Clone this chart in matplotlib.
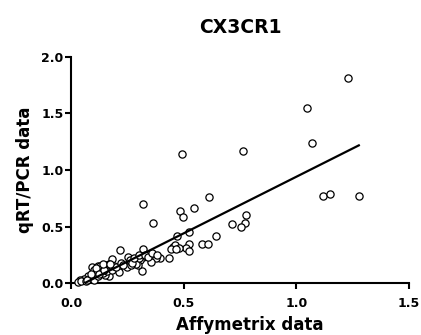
import numpy as np
import matplotlib
matplotlib.use("Agg")
import matplotlib.pyplot as plt

plt.rcParams['font.family'] = ['DejaVu Sans']
plt.rcParams['font.weight'] = 'bold'

# values
affy = [1.228, 1.049, 1.072, 1.120, 1.151, 1.278, 0.762, 0.491,
        0.321, 0.365, 0.612, 0.547, 0.485, 0.496, 0.777, 0.772, 0.756, 0.714,
        0.645, 0.580, 0.609, 0.525, 0.472, 0.525, 0.510, 0.525,
        0.454, 0.462, 0.479, 0.442, 0.468,
        0.435, 0.395, 0.378, 0.354, 0.346, 0.318, 0.314, 0.318, 0.306, 0.299,
        0.284, 0.275, 0.290, 0.300,
        0.216, 0.254, 0.247, 0.265, 0.182, 0.210, 0.214, 0.166, 0.150, 0.151,
        0.121, 0.093, 0.170, 0.160, 0.130, 0.135, 0.115, 0.105, 0.114, 0.098,
        0.077, 0.085, 0.055, 0.040, 0.030, 0.045, 0.065, 0.070, 0.100, 0.120,
        0.140, 0.160, 0.180, 0.190, 0.200, 0.220, 0.230, 0.260, 0.270, 0.280,
        0.300, 0.330, 0.340, 0.360, 0.380, 0.100, 0.110, 0.090, 0.125, 0.145,
        0.143, 0.173]
qpcr = [1.81, 1.55, 1.24, 0.77, 0.79, 0.77, 1.17, 1.14,
        0.70, 0.53, 0.76, 0.66, 0.64, 0.58, 0.60, 0.53, 0.50, 0.52,
        0.42, 0.35, 0.35, 0.45, 0.42, 0.35, 0.31, 0.28,
        0.32, 0.34, 0.31, 0.30, 0.30,
        0.22, 0.22, 0.22, 0.19, 0.26, 0.30, 0.11, 0.23, 0.20, 0.16,
        0.19, 0.21, 0.17, 0.22,
        0.29, 0.23, 0.14, 0.16, 0.21, 0.13, 0.10, 0.06, 0.07, 0.15,
        0.15, 0.14, 0.17, 0.16, 0.15, 0.10, 0.11, 0.09, 0.07, 0.05,
        0.06, 0.04, 0.04, 0.03, 0.01, 0.02, 0.02, 0.03, 0.03, 0.06,
        0.09, 0.11, 0.12, 0.15, 0.14, 0.18, 0.16, 0.20, 0.18, 0.22,
        0.25, 0.25, 0.23, 0.27, 0.25, 0.12, 0.13, 0.08, 0.08, 0.12,
        0.17, 0.17]

# regression line
fit_slope = 1.0
fit_intercept = -0.06

fig = plt.figure(figsize=(4.21, 3.35), dpi=100)
ax = fig.add_axes([0.169, 0.155, 0.802, 0.675])

ax.plot(affy, qpcr, 'o', mfc='white', mec='black', ms=5.2, mew=0.9,
        clip_on=False, zorder=3)

fx = np.array([0.06, max(affy)])
ax.plot(fx, fit_slope * fx + fit_intercept, color='black', lw=1.6, zorder=4)

ax.set_xlim(0, 1.5)
ax.set_ylim(0, 2.0)
ax.set_xticks([0, 0.5, 1.0, 1.5])
ax.set_yticks([0, 0.5, 1.0, 1.5, 2.0])
ax.xaxis.set_major_formatter(plt.FormatStrFormatter('%.1f'))
ax.yaxis.set_major_formatter(plt.FormatStrFormatter('%.1f'))

for s in ['top', 'right']:
    ax.spines[s].set_visible(False)
for s in ['left', 'bottom']:
    ax.spines[s].set_linewidth(1.5)
ax.tick_params(direction='out', length=4.5, width=1.5, labelsize=9)
ax.tick_params(axis='x', pad=5.5)
ax.tick_params(axis='y', pad=1)

ax.set_xlabel('Affymetrix data', fontsize=12, fontweight='bold', labelpad=4)
ax.xaxis.label.set_x(0.53)
ax.set_ylabel('qRT/PCR data', fontsize=12, fontweight='bold', labelpad=5)
ax.set_title('CX3CR1', fontsize=13.5, fontweight='bold', pad=17)

fig.savefig('out.png', dpi=100)
